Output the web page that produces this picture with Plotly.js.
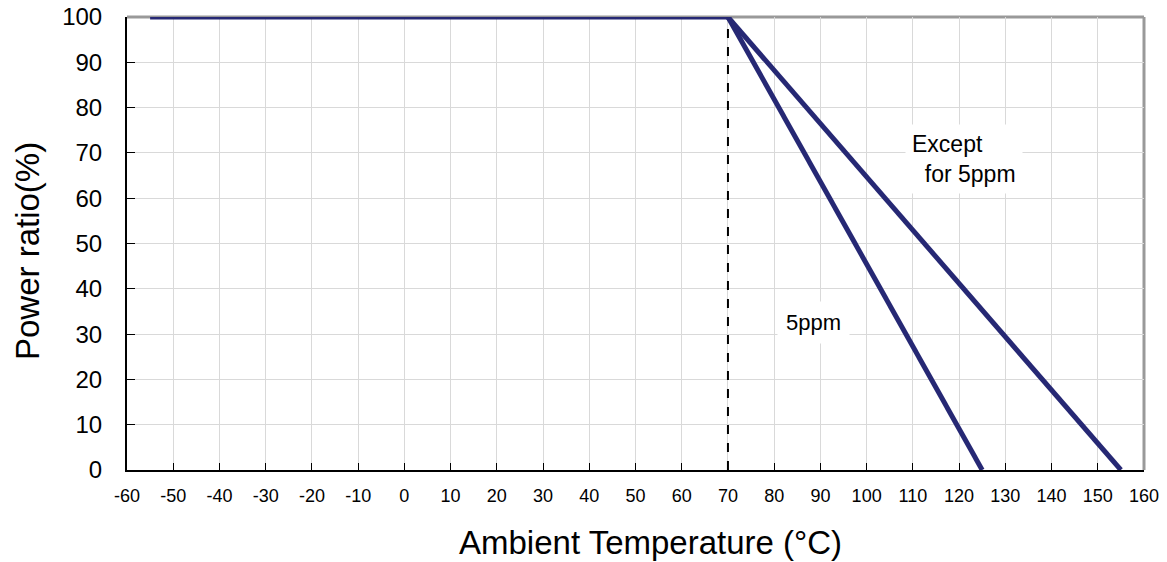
<!DOCTYPE html>
<html><head><meta charset="utf-8">
<script src="https://cdn.plot.ly/plotly-3.0.1.min.js"></script>
<style>body{margin:0;background:#fff}#c{width:1167px;height:562px}</style>
</head><body><div id="c"></div>
<script>
const flatX = [-55, 70];
const flatY = [100, 100];
const ppm5X = [70, 125];
const ppm5Y = [100, 0];
const exceptX = [70, 155];
const exceptY = [100, 0];
const dashX = [70, 70];
const dashY = [0, 100];
const xTicks = [-60,-50,-40,-30,-20,-10,0,10,20,30,40,50,60,70,80,90,100,110,120,130,140,150,160];
const yTicks = [0,10,20,30,40,50,60,70,80,90,100];
const xTitle = 'Ambient Temperature (°C)';
const yTitle = 'Power ratio(%)';

const navy = '#262874';
const traces = [
  {x: dashX, y: dashY, mode:'lines', line:{color:'#000', width:2, dash:'dash'}, hoverinfo:'skip'},
  {x: flatX, y: flatY, mode:'lines', line:{color:navy, width:5}},
  {x: ppm5X, y: ppm5Y, mode:'lines', line:{color:navy, width:5}},
  {x: exceptX, y: exceptY, mode:'lines', line:{color:navy, width:5}}
];
const ff = 'Liberation Sans, Arial, sans-serif';
const layout = {
  width:1167, height:562, showlegend:false,
  paper_bgcolor:'#fff', plot_bgcolor:'#fff',
  margin:{l:127, r:23, t:17, b:92},
  font: {family:ff, color:'#000'},
  xaxis:{range:[-60,160], tickvals:xTicks, ticktext:xTicks.map(String),
    showgrid:true, gridcolor:'#d9d9d9', gridwidth:1, zeroline:false,
    showline:true, linecolor:'#000', linewidth:2, ticks:'inside', ticklen:7, tickcolor:'#000',
    ticklabelstandoff:8,
    tickfont:{size:18, family:ff, color:'#000'}},
  yaxis:{range:[0,100], tickvals:yTicks, ticktext:yTicks.map(String),
    showgrid:true, gridcolor:'#d9d9d9', gridwidth:1, zeroline:false,
    showline:true, linecolor:'#000', linewidth:2, ticks:'inside', ticklen:8, tickcolor:'#000',
    ticklabelstandoff:18,
    tickfont:{size:24, family:ff, color:'#000'}},
  shapes:[
    {type:'line', xref:'paper', yref:'paper', x0:0, x1:1, y0:1, y1:1, line:{color:'#999', width:3}, layer:'below'},
    {type:'line', xref:'paper', yref:'paper', x0:1, x1:1, y0:0, y1:1, line:{color:'#999', width:3}, layer:'below'}
  ],
  annotations:[
    {x:88.5, y:32.5, xref:'x', yref:'y', text:'5ppm', showarrow:false, bgcolor:'#fff',
      font:{size:22, family:ff, color:'#000'}, borderpad:8},
    {x:121.1, y:68.6, xref:'x', yref:'y', text:'Except<br>  for 5ppm', align:'left', showarrow:false, bgcolor:'#fff',
      font:{size:23, family:ff, color:'#000'}, borderpad:6},
    {x:0.5152, y:-0.159, xref:'paper', yref:'paper', text:xTitle, showarrow:false, borderpad:0,
      xanchor:'center', yanchor:'middle', font:{size:33, family:ff, color:'#000'}},
    {x:-0.0983, y:0.4834, xref:'paper', yref:'paper', text:yTitle, showarrow:false, textangle:-90,
      xanchor:'center', yanchor:'middle', font:{size:33, family:ff, color:'#000'}}
  ]
};
Plotly.newPlot('c', traces, layout, {displayModeBar:false, staticPlot:true});
</script></body></html>
